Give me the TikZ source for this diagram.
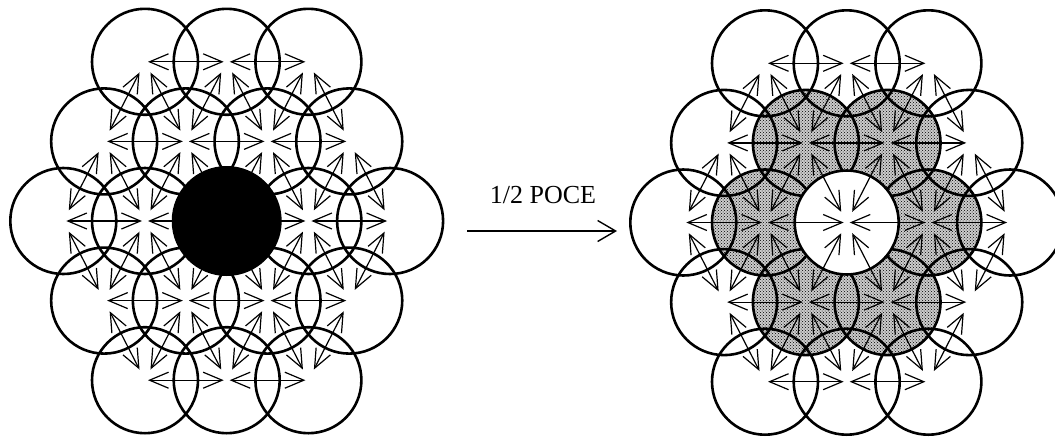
\documentclass[tikz,border=0pt]{standalone}
\usepackage{fontspec}
\setmainfont{Liberation Serif}
\usetikzlibrary{arrows.meta,patterns}
\tikzset{
  ring/.style={draw=black, line width=2.6pt},
  barb/.tip={Straight Barb[length=19pt,width=16pt]},
  harrow/.style={line width=1.2pt, barb-barb, shorten <=3pt, shorten >=3pt},
  darrow/.style={line width=1.2pt, barb-barb, shorten <=12pt, shorten >=12pt},
  shadefill/.style={preaction={fill=gray!40}, pattern=crosshatch dots, pattern color=black},
  mainarrow/.style={line width=1.4pt, -{Straight Barb[length=18pt,width=21pt]}},
}
\begin{document}
\begin{tikzpicture}[x=1pt,y=-1pt]
\useasboundingbox (0,0) rectangle (1055,437);
% lattice coordinates
\foreach \p/\cx/\cy in {L/226.7/221, R/846.7/222.5} {
  \foreach \i in {0,...,4} {
    \foreach \j in {0,...,4} {
      \pgfmathtruncatemacro\s{\i+\j}
      \ifnum\s>1 \ifnum\s<7
        \coordinate (\p\i\j) at ({\cx+(\i-2)*81.7+(\j-2)*40.85}, {\cy+(\j-2)*79.6});
      \fi\fi
    }
  }
}
% right: shaded ring
\foreach \n in {32,12,21,31,23,13} {
  \path[shadefill] (R\n) circle[radius=53pt];
}
% outlines
\foreach \p in {L,R} {
  \foreach \i in {0,...,4} {
    \foreach \j in {0,...,4} {
      \pgfmathtruncatemacro\s{\i+\j}
      \ifnum\s>1 \ifnum\s<7
        \ifnum\i\j=22 \else
          \draw[ring] (\p\i\j) circle[radius=53pt];
        \fi
      \fi\fi
    }
  }
}
% right: empty centre
\draw[ring, fill=white] (R22) circle[radius=52pt];
% arrows
\foreach \p in {L,R} {
  \foreach \i in {0,...,4} {
    \foreach \j in {0,...,4} {
      \pgfmathtruncatemacro\s{\i+\j}
      \pgfmathtruncatemacro\ip{\i+1}
      \pgfmathtruncatemacro\im{\i-1}
      \pgfmathtruncatemacro\jp{\j+1}
      \ifnum\s>1 \ifnum\s<7
        \ifnum\ip<5 \ifnum\s<6
          \draw[harrow] (\p\i\j) -- (\p\ip\j);
        \fi\fi
        \ifnum\jp<5 \ifnum\s<6
          \draw[darrow] (\p\i\j) -- (\p\i\jp);
        \fi\fi
        \ifnum\im>-1 \ifnum\jp<5
          \draw[darrow] (\p\i\j) -- (\p\im\jp);
        \fi\fi
      \fi\fi
    }
  }
}
% left: filled centre
\fill[black] (L22) circle[radius=55pt];
% middle arrow and label
\coordinate (a1) at (467,231);
\coordinate (a2) at (617,231);
\draw[mainarrow] (a1) -- (a2);
\node[anchor=base, inner sep=0pt, font=\fontsize{26}{30}\selectfont] (lbl) at (543,203) {1/2 POCE};
\end{tikzpicture}
\end{document}
